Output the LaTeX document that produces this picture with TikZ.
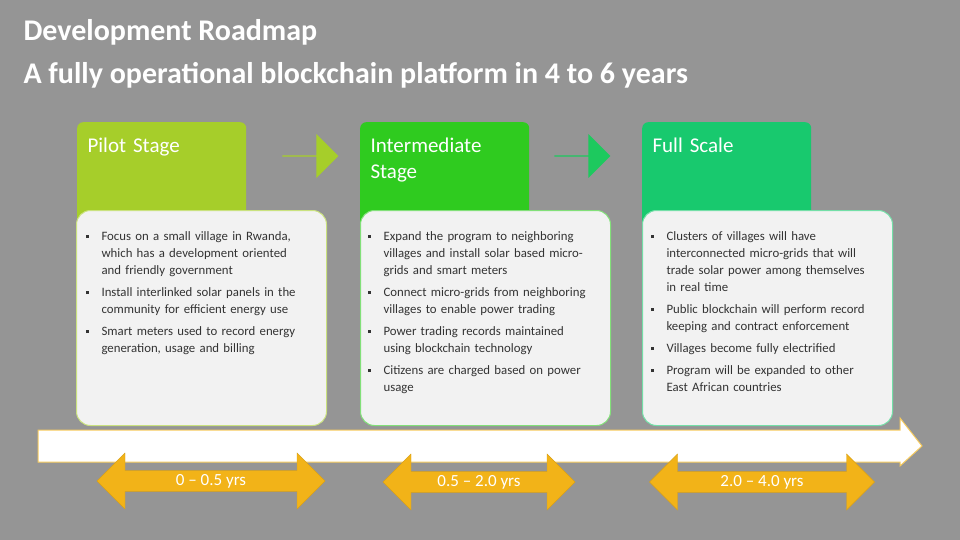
\documentclass[tikz,border=0pt]{standalone}
\usepackage{fontspec}
\setmainfont{Carlito}
\usetikzlibrary{shapes.arrows}
\definecolor{bg}{HTML}{959595}
\definecolor{cA}{HTML}{A6CE2A}
\definecolor{cB}{HTML}{2FCB1F}
\definecolor{cC}{HTML}{18C96E}
\definecolor{card}{HTML}{F2F2F2}
\definecolor{orng}{HTML}{F2B318}
\tikzset{
 hdr/.style={rounded corners=6pt, minimum width=169pt, minimum height=180pt, anchor=north west, inner sep=0pt},
 hdrtxt/.style={text=white, font=\fontsize{21}{26}\selectfont, anchor=north west, align=left, text width=150pt},
 cardbox/.style={rounded corners=14pt, fill=card, draw=#1!60!white, line width=1pt, minimum width=250pt, minimum height=215pt, anchor=north west},
 blist/.style={anchor=north west, text width=225pt, align=left, font=\fontsize{12.8}{17}\selectfont, text=black!80},
 dbl/.style={double arrow, fill=orng, draw=orng!90!black, double arrow head extend=12pt, minimum height=#1, minimum width=56pt, inner sep=0pt, shape border uses incircle=false, text=white, font=\fontsize{17}{20}\selectfont},
 garrow/.style={single arrow, fill=#1, minimum height=56pt, minimum width=44pt, single arrow head extend=6pt, single arrow head indent=0pt, inner sep=0pt, shape border uses incircle=false}
}
\newcommand{\bl}[1]{\par\hangindent=16pt\hangafter=1\noindent\makebox[16pt][l]{\raisebox{2.5pt}{\rule{3pt}{3pt}}}#1\par\vspace{5pt}}
\begin{document}
\begin{tikzpicture}[x=1pt,y=-1pt]
\fill[bg] (0,0) rectangle (960,540);
\useasboundingbox (0,0) rectangle (960,540);
\node[anchor=west, text=white, font=\bfseries\fontsize{30}{34}\selectfont] (t1) at (20,32) {Development Roadmap};
\node[anchor=west, text=white, font=\bfseries\fontsize{30}{34}\selectfont] (t2) at (20,75) {A fully operational blockchain platform in 4 to 6 years};
% headers
\node[hdr, fill=cA] (h1) at (77,122) {};
\node[hdr, fill=cB] (h2) at (360,122) {};
\node[hdr, fill=cC] (h3) at (642,122) {};
\node[hdrtxt] (ht1) at (84,134) {Pilot Stage};
\node[hdrtxt] (ht2) at (367,134) {Intermediate\\Stage};
\node[hdrtxt] (ht3) at (649,134) {Full Scale};
\node[garrow=cA] (a1) at (310,156) {};
\node[garrow=cC!80!cB] (a2) at (582,156) {};
% cards
\node[cardbox=cA] (c1) at (76,210) {};
\node[cardbox=cB] (c2) at (360,210) {};
\node[cardbox=cC] (c3) at (642,210) {};
\node[blist] (b1) at (82,220) {\hyphenpenalty=10000
\bl{Focus on a small village in Rwanda, which has a development oriented and friendly government}
\bl{Install interlinked solar panels in the community for efficient energy use}
\bl{Smart meters used to record energy generation, usage and billing}};
\node[blist] (b2) at (364,220) {\hyphenpenalty=10000
\bl{Expand the program to neighboring villages and install solar based micro-grids and smart meters}
\bl{Connect micro-grids from neighboring villages to enable power trading}
\bl{Power trading records maintained using blockchain technology}
\bl{Citizens are charged based on power usage}};
\node[blist] (b3) at (647,220) {\hyphenpenalty=10000
\bl{Clusters of villages will have interconnected micro-grids that will trade solar power among themselves in real time}
\bl{Public blockchain will perform record keeping and contract enforcement}
\bl{Villages become fully electrified}
\bl{Program will be expanded to other East African countries}};
% timeline
\draw[draw=orng!70!white, fill=white, line width=1pt] (38,430) -- (900,430) -- (900,418) -- (922,446) -- (900,466) -- (900,462) -- (38,462) -- cycle;
\node[dbl=228pt] (d1) at (211,481) {0 – 0.5 yrs};
\node[dbl=192pt] (d2) at (479,482) {0.5 – 2.0 yrs};
\node[dbl=225pt] (d3) at (762,482) {2.0 – 4.0 yrs};
\end{tikzpicture}
\end{document}
